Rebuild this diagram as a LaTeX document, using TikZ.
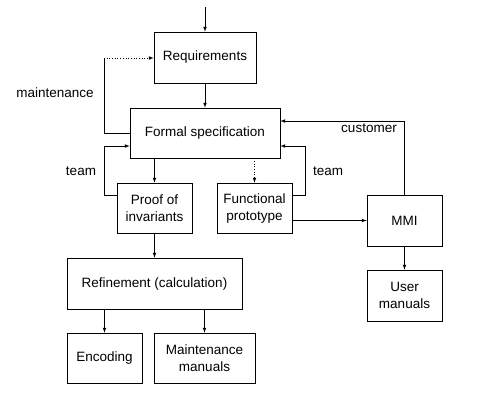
\documentclass[tikz,border=0pt]{standalone}
\usepackage{fontspec}
\setmainfont{Liberation Sans}
\usepackage{tikz}

\begin{document}
\begin{tikzpicture}[x=1bp, y=-1bp, line width=0.7pt,
    every node/.append style={draw, inner sep=0pt, align=center, font=\fontsize{13.5bp}{17bp}\selectfont}]
        \useasboundingbox (0,0) rectangle (484,417);

        \node [minimum width=102bp, minimum height=51bp] (req) at (205,57.5) {Requirements};
        \node [minimum width=150bp, minimum height=50bp] (spec) at (205,133) {Formal specification};
        \node [minimum width=75bp, minimum height=50bp] (proof) at (154.5,208) {Proof of\\invariants};
        \node [minimum width=75bp, minimum height=50bp] (func) at (254.5,208) {Functional\\prototype};
        \node [minimum width=75bp, minimum height=51bp] (mmi) at (404.5,220.5) {MMI};
        \node [minimum width=75bp, minimum height=51bp] (user) at (404.5,295.5) {User\\manuals};
        \node [minimum width=175bp, minimum height=51bp] (ref) at (154.5,283.5) {Refinement (calculation)};
        \node [minimum width=75bp, minimum height=50bp] (enc) at (104.5,358) {Encoding};
        \node [minimum width=101bp, minimum height=50bp] (mman) at (204.5,358) {Maintenance\\manuals};

        \node [draw=none] (lmaint) at (55,93) {maintenance};
        \node [draw=none] (lteaml) at (81,171) {team};
        \node [draw=none] (lteamr) at (328,171) {team};
        \node [draw=none] (lcust) at (369,128) {customer};

        \coordinate (in) at (205,7);
        \coordinate (m1) at (104,133);
        \coordinate (m2) at (104,58);
        \coordinate (tl) at (104,146);
        \coordinate (tr) at (305,146);

        \draw [-latex] (in) -- (req.north);
        \draw [-latex] (req.south) -- (spec.north);
        \draw (spec.west) -- (m1) -- (m2);
        \draw [dotted, -latex] (m2) -- (m2 -| req.west);
        \draw [-latex] ([yshift=13bp]proof.west) -| (tl) -- (tl -| spec.west);
        \draw [-latex] ([yshift=13bp]func.east) -| (tr) -- (tr -| spec.east);
        \draw [-latex] (mmi.north) |- ([yshift=12bp]spec.east);
        \draw [-latex] (spec.south -| proof.north) -- (proof.north);
        \draw [dotted, -latex] (spec.south -| func.north) -- (func.north);
        \draw [-latex] (mmi.west -| func.east) -- (mmi.west);
        \draw [-latex] (mmi.south) -- (user.north);
        \draw [-latex] (proof.south) -- (ref.north -| proof.south);
        \draw [-latex] (ref.south -| enc.north) -- (enc.north);
        \draw [-latex] (ref.south -| mman.north) -- (mman.north);
    \end{tikzpicture}
\end{document}
